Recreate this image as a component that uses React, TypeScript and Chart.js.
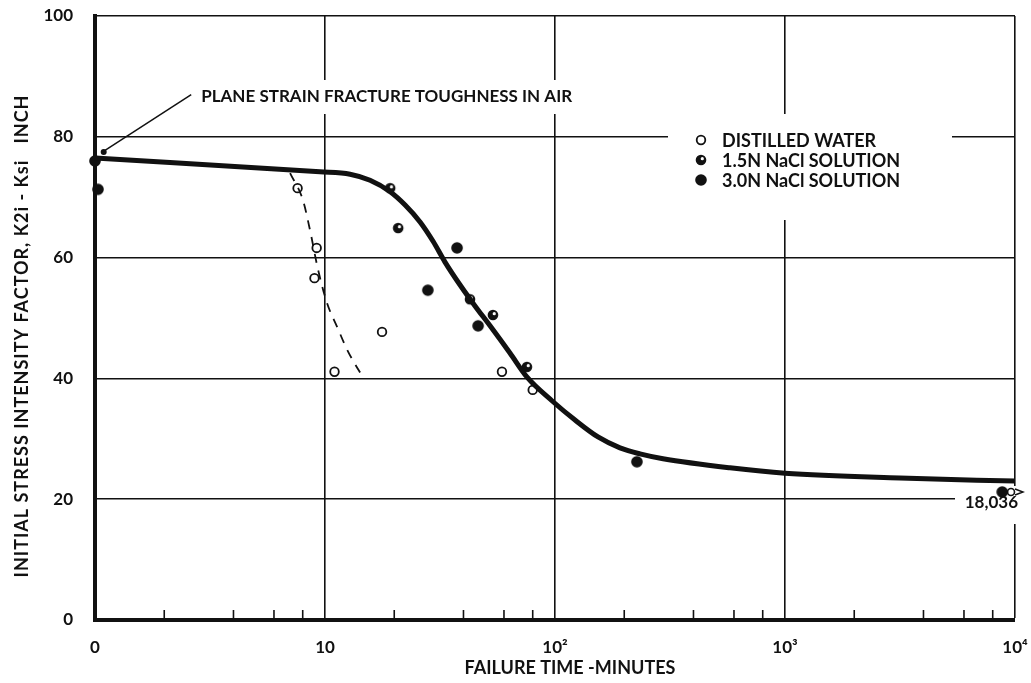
import React, { useEffect, useRef } from 'react';
import { Chart, registerables } from 'chart.js';

Chart.register(...registerables);

// Axis ticks
const xTickValues = [1, 10, 100, 1000, 10000];
const xTickLabels = ['0', '10', '10²', '10³', '10⁴'];
const xMinorMultipliers = [2, 4, 6, 8];
const yTickValues = [0, 20, 40, 60, 80, 100];
const yTickLabels = ['0', '20', '40', '60', '80', '100'];

// Mean failure curve (solid)
const meanTime = [1, 9.5, 12.85, 15.7, 19.2, 22.3, 25.9, 29.5, 33.2, 38.6, 44.9, 52.2, 63.7, 75.6, 97.0, 122.2, 153.8, 191.7, 234.2, 294.9, 576.7, 1000, 3160, 10000];
const meanK = [76.5, 74.2, 73.8, 72.8, 70.9, 68.7, 65.9, 62.7, 59.3, 55.5, 52.0, 48.7, 44.2, 40.2, 36.3, 33.1, 30.3, 28.5, 27.5, 26.7, 25.2, 24.3, 23.5, 23.0];

// Distilled water trend (dashed)
const waterTrendTime = [7.05, 8.02, 8.6, 9.33, 10.2, 11.3, 12.5, 14.6];
const waterTrendK = [74.0, 69.5, 64.6, 58.0, 52.5, 48.5, 44.7, 40.2];

// Distilled water specimens
const waterTime = [7.6, 9.2, 9.0, 11.0, 17.7, 58.8, 80];
const waterK = [71.5, 61.6, 56.6, 41.1, 47.7, 41.1, 38.1];

// 1.5N NaCl specimens
const nacl15Time = [19.2, 20.8, 42.7, 53.7, 75.5];
const nacl15K = [71.5, 64.9, 53.1, 50.5, 41.9];

// 3.0N NaCl specimens
const nacl30Time = [1.0, 1.03, 28.0, 37.5, 46.3, 227, 8800];
const nacl30K = [76.0, 71.3, 54.6, 61.6, 48.7, 26.2, 21.2];

// Run-out specimen (did not fail)
const runoutTime = [10000];
const runoutK = [21.2];
const runoutLabel = '18,036';

// Plane strain toughness leader line
const leaderTime = [1.08, 2.62];
const leaderK = [77.5, 87.0];
const leaderText = 'PLANE STRAIN FRACTURE TOUGHNESS IN AIR';

const legendLabels = ['DISTILLED WATER', '1.5N NaCl SOLUTION', '3.0N NaCl SOLUTION'];
const xTitle = 'FAILURE TIME -MINUTES';
const yTitle = 'INITIAL STRESS INTENSITY FACTOR, K2i - Ksi   INCH';

const INK = '#111111';
const FONT = 'Lato, "DejaVu Sans", sans-serif';

const pts = (xs: number[], ys: number[]) => xs.map((x, i) => ({ x, y: ys[i] }));

function drawOpen(ctx: CanvasRenderingContext2D, x: number, y: number) {
  ctx.beginPath();
  ctx.arc(x, y, 4.3, 0, Math.PI * 2);
  ctx.fillStyle = '#fff';
  ctx.fill();
  ctx.lineWidth = 1.8;
  ctx.strokeStyle = INK;
  ctx.stroke();
}
function drawHalf(ctx: CanvasRenderingContext2D, x: number, y: number) {
  ctx.beginPath();
  ctx.arc(x, y, 5.3, 0, Math.PI * 2);
  ctx.fillStyle = INK;
  ctx.fill();
  ctx.beginPath();
  ctx.arc(x + 1.3, y - 1.3, 1.6, 0, Math.PI * 2);
  ctx.fillStyle = '#fff';
  ctx.fill();
}
function drawSolid(ctx: CanvasRenderingContext2D, x: number, y: number) {
  ctx.beginPath();
  ctx.arc(x, y, 5.8, 0, Math.PI * 2);
  ctx.fillStyle = INK;
  ctx.fill();
}

function makeMarker(w: number, h: number, draw: (c: CanvasRenderingContext2D) => void) {
  const c = document.createElement('canvas');
  c.width = w;
  c.height = h;
  const g = c.getContext('2d')!;
  draw(g);
  return c;
}

const decor = {
  id: 'decor',
  beforeDatasetsDraw(chart: any) {
    const { ctx, chartArea } = chart;
    const x = chart.scales.x;
    ctx.save();
    // minor ticks along the time axis
    ctx.strokeStyle = INK;
    ctx.lineWidth = 1.6;
    for (let d = 1; d < 10000; d *= 10) {
      for (const m of xMinorMultipliers) {
        const px = x.getPixelForValue(d * m);
        ctx.beginPath();
        ctx.moveTo(px, chartArea.bottom);
        ctx.lineTo(px, chartArea.bottom - 10);
        ctx.stroke();
      }
    }
    // breaks in the grid behind the texts
    ctx.fillStyle = '#fff';
    ctx.fillRect(196, 80, 382, 34);
    ctx.fillRect(668, 114, 284, 106);
    ctx.fillRect(955, 486, 62, 38);
    ctx.restore();
  },
  afterDatasetsDraw(chart: any) {
    const { ctx, chartArea } = chart;
    const x = chart.scales.x;
    const y = chart.scales.y;
    ctx.save();

    // leader line to the toughness note
    const lx0 = x.getPixelForValue(leaderTime[0]);
    const ly0 = y.getPixelForValue(leaderK[0]);
    const lx1 = x.getPixelForValue(leaderTime[1]);
    const ly1 = y.getPixelForValue(leaderK[1]);
    ctx.strokeStyle = INK;
    ctx.lineWidth = 1.5;
    ctx.beginPath();
    ctx.moveTo(lx0, ly0);
    ctx.lineTo(lx1, ly1);
    ctx.stroke();
    ctx.beginPath();
    ctx.arc(lx0 + 1, ly0, 3, 0, Math.PI * 2);
    ctx.fillStyle = INK;
    ctx.fill();

    ctx.fillStyle = INK;
    ctx.font = `bold 17px ${FONT}`;
    ctx.textBaseline = 'middle';
    ctx.textAlign = 'left';
    ctx.fillText(leaderText, lx1 + 10, ly1 + 2);

    // legend
    const lgX = 701;
    const lgY = [140, 160, 180];
    const painters = [drawOpen, drawHalf, drawSolid];
    legendLabels.forEach((t, i) => {
      painters[i](ctx, lgX, lgY[i]);
      ctx.fillStyle = INK;
      ctx.font = `bold 18px ${FONT}`;
      ctx.textAlign = 'left';
      ctx.fillText(t, lgX + 21, lgY[i] + 1);
    });

    // run-out time label
    ctx.font = `bold 17px ${FONT}`;
    ctx.textAlign = 'right';
    ctx.fillText(runoutLabel, chartArea.right + 3, y.getPixelForValue(20) + 3);

    // axis titles
    ctx.font = `bold 18px ${FONT}`;
    ctx.textAlign = 'center';
    ctx.fillText(xTitle, 570, 668);
    (ctx as any).letterSpacing = '1px';
    ctx.translate(22, 336);
    ctx.rotate(-Math.PI / 2);
    ctx.fillText(yTitle, 0, 0);
    ctx.restore();
  },
};

export default function App() {
  const ref = useRef<HTMLCanvasElement>(null);

  useEffect(() => {
    const canvas = ref.current!;
    const halfMarker = makeMarker(14, 14, (g) => drawHalf(g, 7, 7));
    const solidMarker = makeMarker(14, 14, (g) => drawSolid(g, 7, 7));
    const runoutMarker = makeMarker(20, 12, (g) => {
      g.strokeStyle = INK;
      g.lineWidth = 1.6;
      g.beginPath();
      g.arc(6, 6, 3.5, 0, Math.PI * 2);
      g.stroke();
      g.beginPath();
      g.moveTo(10, 3);
      g.lineTo(18, 6);
      g.lineTo(10, 9);
      g.stroke();
    });

    const tickFont = { family: FONT, size: 17, weight: 'bold' as const };

    const chart = new Chart(canvas, {
      type: 'scatter',
      data: {
        datasets: [
          {
            type: 'line',
            label: 'mean',
            data: pts(meanTime, meanK),
            borderColor: INK,
            borderWidth: 5,
            pointRadius: 0,
            cubicInterpolationMode: 'monotone',
            clip: false,
          } as any,
          {
            type: 'line',
            label: 'water trend',
            data: pts(waterTrendTime, waterTrendK),
            borderColor: INK,
            borderWidth: 1.8,
            borderDash: [9, 8],
            pointRadius: 0,
            cubicInterpolationMode: 'monotone',
            clip: false,
          } as any,
          {
            label: legendLabels[0],
            data: pts(waterTime, waterK),
            pointStyle: 'circle',
            pointRadius: 4.3,
            backgroundColor: '#fff',
            borderColor: INK,
            borderWidth: 1.8,
            clip: false,
          },
          {
            label: legendLabels[1],
            data: pts(nacl15Time, nacl15K),
            pointStyle: halfMarker,
            clip: false,
          } as any,
          {
            label: legendLabels[2],
            data: pts(nacl30Time, nacl30K),
            pointStyle: solidMarker,
            clip: false,
          } as any,
          {
            label: 'run-out',
            data: pts(runoutTime, runoutK),
            pointStyle: runoutMarker,
            clip: false,
          } as any,
        ],
      },
      options: {
        responsive: false,
        animation: false,
        events: [],
        layout: { padding: 0 },
        plugins: { legend: { display: false }, tooltip: { enabled: false } },
        scales: {
          x: {
            type: 'logarithmic',
            min: 1,
            max: 10000,
            afterBuildTicks: (s: any) => {
              s.ticks = xTickValues.map((v) => ({ value: v }));
            },
            afterFit: (s: any) => {
              s.height = 63;
              s.paddingLeft = 0;
              s.paddingRight = 16;
            },
            ticks: {
              autoSkip: false,
              maxRotation: 0,
              padding: 17,
              color: INK,
              font: tickFont,
              callback: (v: any) => {
                const i = xTickValues.indexOf(Number(v));
                return i >= 0 ? xTickLabels[i] : '';
              },
            },
            grid: {
              color: INK,
              lineWidth: (c: any) => (c.index === 0 ? 0 : 1.6),
              drawTicks: false,
            },
            border: { display: true, width: 4, color: INK },
          },
          y: {
            min: 0,
            max: 100,
            afterBuildTicks: (s: any) => {
              s.ticks = yTickValues.map((v) => ({ value: v }));
            },
            afterFit: (s: any) => {
              s.width = 95;
              s.paddingTop = 16;
              s.paddingBottom = 0;
            },
            ticks: {
              padding: 22,
              color: INK,
              font: tickFont,
              callback: (v: any) => {
                const i = yTickValues.indexOf(Number(v));
                return i >= 0 ? yTickLabels[i] : '';
              },
            },
            grid: {
              color: INK,
              lineWidth: (c: any) => (c.index === 0 ? 0 : 1.6),
              drawTicks: false,
            },
            border: { display: true, width: 4, color: INK },
          },
        },
      },
      plugins: [decor],
    } as any);

    return () => chart.destroy();
  }, []);

  return (
    <div style={{ position: 'fixed', left: 0, top: 0, width: 1031, height: 683, background: '#fff' }}>
      <canvas ref={ref} width={1031} height={683} style={{ display: 'block' }} />
    </div>
  );
}
